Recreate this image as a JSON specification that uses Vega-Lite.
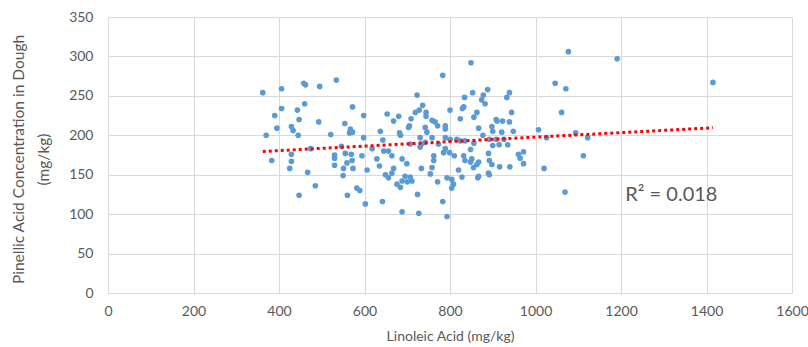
{
  "$schema": "https://vega.github.io/schema/vega-lite/v6.json",
  "width": 684,
  "height": 276,
  "autosize": {"type": "none"},
  "padding": {"left": 108, "top": 17, "right": 16, "bottom": 54},
  "background": "white",
  "config": {
    "view": {"stroke": null},
    "font": "Lato",
    "axis": {"labelColor": "#595959", "titleColor": "#595959", "titleFontWeight": "normal", "gridColor": "#d9d9d9", "gridWidth": 1, "domain": false, "ticks": false, "labelFont": "Lato", "titleFont": "Lato", "labelOverlap": false, "labelFlush": false}
  },
  "datasets": {
    "pts": [
      {"x":362,"y":254},{"x":406,"y":259},{"x":458,"y":266},{"x":462,"y":264},{"x":495,"y":262},{"x":534,"y":270},{"x":460,"y":240},{"x":406,"y":234},{"x":390,"y":225},{"x":443,"y":232},{"x":447,"y":220},{"x":493,"y":217},{"x":572,"y":236},{"x":395,"y":209},{"x":429,"y":211},{"x":433,"y":206},{"x":370,"y":200},{"x":445,"y":200},{"x":521,"y":201},{"x":554,"y":215},{"x":567,"y":208},{"x":572,"y":204},{"x":565,"y":203},{"x":474,"y":183},{"x":546,"y":186},{"x":429,"y":176},{"x":530,"y":175},{"x":530,"y":171},{"x":555,"y":177},{"x":569,"y":176},{"x":383,"y":168},{"x":429,"y":167},{"x":559,"y":165},{"x":571,"y":168},{"x":425,"y":158},{"x":530,"y":162},{"x":551,"y":158},{"x":573,"y":158},{"x":467,"y":153},{"x":550,"y":149},{"x":485,"y":136},{"x":582,"y":133},{"x":447,"y":124},{"x":560,"y":124},
      {"x":1077,"y":306},{"x":849,"y":292},{"x":783,"y":276},{"x":1046,"y":266},{"x":1071,"y":259},{"x":723,"y":251},{"x":853,"y":254},{"x":888,"y":258},{"x":878,"y":251},{"x":874,"y":245},{"x":882,"y":240},{"x":939,"y":254},{"x":933,"y":248},{"x":834,"y":248},{"x":832,"y":236},{"x":736,"y":238},{"x":728,"y":232},{"x":719,"y":229},{"x":744,"y":229},{"x":800,"y":232},{"x":863,"y":229},{"x":944,"y":229},{"x":1061,"y":229},{"x":653,"y":227},{"x":598,"y":225},{"x":680,"y":224},{"x":668,"y":218},{"x":709,"y":221},{"x":744,"y":224},{"x":824,"y":221},{"x":856,"y":223},{"x":908,"y":220},{"x":923,"y":218},{"x":939,"y":217},{"x":705,"y":212},{"x":703,"y":210},{"x":758,"y":219},{"x":765,"y":217},{"x":771,"y":212},{"x":742,"y":210},{"x":789,"y":212},{"x":789,"y":208},{"x":746,"y":204},{"x":867,"y":209},{"x":898,"y":211},{"x":900,"y":205},{"x":921,"y":204},{"x":948,"y":205},{"x":1007,"y":207},{"x":598,"y":197},{"x":637,"y":205},{"x":643,"y":194},{"x":682,"y":203},{"x":684,"y":200},{"x":730,"y":197},{"x":758,"y":197},{"x":789,"y":197},{"x":800,"y":195},{"x":816,"y":195},{"x":824,"y":193},{"x":835,"y":193},{"x":877,"y":200},{"x":892,"y":195},{"x":908,"y":195},{"x":926,"y":195},{"x":1026,"y":197},{"x":1094,"y":203},{"x":1122,"y":197},{"x":1112,"y":174},{"x":1069,"y":128},{"x":1020,"y":158},
      {"x":594,"y":174},{"x":618,"y":183},{"x":645,"y":180},{"x":656,"y":180},{"x":664,"y":174},{"x":629,"y":170},{"x":635,"y":161},{"x":606,"y":156},{"x":668,"y":158},{"x":688,"y":170},{"x":699,"y":164},{"x":730,"y":185},{"x":733,"y":189},{"x":762,"y":174},{"x":762,"y":168},{"x":758,"y":159},{"x":773,"y":189},{"x":785,"y":178},{"x":799,"y":178},{"x":810,"y":174},{"x":789,"y":183},{"x":832,"y":174},{"x":835,"y":168},{"x":851,"y":170},{"x":820,"y":156},{"x":855,"y":159},{"x":863,"y":163},{"x":890,"y":177},{"x":892,"y":168},{"x":898,"y":163},{"x":916,"y":160},{"x":940,"y":160},{"x":960,"y":176},{"x":972,"y":179},{"x":964,"y":171},{"x":972,"y":164},{"x":649,"y":150},{"x":656,"y":146},{"x":676,"y":138},{"x":684,"y":134},{"x":688,"y":142},{"x":707,"y":147},{"x":711,"y":142},{"x":733,"y":158},{"x":754,"y":151},{"x":771,"y":141},{"x":793,"y":146},{"x":804,"y":144},{"x":808,"y":138},{"x":804,"y":133},{"x":828,"y":147},{"x":865,"y":146},{"x":892,"y":150},{"x":589,"y":130},{"x":642,"y":116},{"x":602,"y":113},{"x":724,"y":125},{"x":783,"y":116},{"x":688,"y":103},{"x":727,"y":101},{"x":793,"y":97},
      {"x":1191,"y":297},{"x":1415,"y":267},
      {"x":707,"y":189},{"x":742,"y":191},{"x":664,"y":152},{"x":695,"y":148},{"x":700,"y":141},{"x":848,"y":182},{"x":848,"y":166},{"x":900,"y":187},{"x":915,"y":188},{"x":935,"y":188},{"x":856,"y":190},{"x":867,"y":166},{"x":890,"y":152},{"x":867,"y":148},{"x":910,"y":218},{"x":829,"y":234}
    ],
    "trend": [{"x":362,"y":179.5},{"x":1415,"y":209.5}]
  },
  "layer": [
    {
      "data": {"name": "pts"},
      "mark": {"type": "circle", "size": 32, "color": "#5B9BD5", "opacity": 1},
      "encoding": {
        "x": {"field": "x", "type": "quantitative", "scale": {"domain": [0, 1600], "nice": false},
          "axis": {"values": [0,200,400,600,800,1000,1200,1400,1600], "format": "d", "grid": true, "labelFontSize": 14, "labelPadding": 11, "title": "Linoleic Acid (mg/kg)", "titleFontSize": 14, "titlePadding": 11}},
        "y": {"field": "y", "type": "quantitative", "scale": {"domain": [0, 350], "nice": false},
          "axis": {"values": [0,50,100,150,200,250,300,350], "format": "d", "grid": true, "labelFontSize": 14, "labelPadding": 15,
            "title": ["Pinellic Acid Concentration in Dough", "(mg/kg)"], "titleFontSize": 15.5, "titleLineHeight": 25,
            "titleAngle": 270, "titleAlign": "center", "titleBaseline": "top", "titleX": -97, "titleY": 142}}
      }
    },
    {
      "data": {"name": "trend"},
      "mark": {"type": "line", "color": "#FF0000", "strokeWidth": 3, "strokeDash": [3, 3]},
      "encoding": {
        "x": {"field": "x", "type": "quantitative", "scale": {"domain": [0, 1600], "nice": false},
          "axis": {"values": [0,200,400,600,800,1000,1200,1400,1600], "format": "d", "grid": true, "labelFontSize": 14, "labelPadding": 11, "title": "Linoleic Acid (mg/kg)", "titleFontSize": 14, "titlePadding": 11}},
        "y": {"field": "y", "type": "quantitative", "scale": {"domain": [0, 350], "nice": false},
          "axis": {"values": [0,50,100,150,200,250,300,350], "format": "d", "grid": true, "labelFontSize": 14, "labelPadding": 15,
            "title": ["Pinellic Acid Concentration in Dough", "(mg/kg)"], "titleFontSize": 15.5, "titleLineHeight": 25,
            "titleAngle": 270, "titleAlign": "center", "titleBaseline": "top", "titleX": -97, "titleY": 142}}
      }
    },
    {
      "data": {"values": [{}]},
      "mark": {"type": "text", "text": "R² = 0.018", "fontSize": 20, "color": "#595959", "align": "left", "baseline": "middle", "font": "Lato"},
      "encoding": {
        "x": {"datum": 1210, "scale": {"domain": [0, 1600], "nice": false},
          "axis": {"values": [0,200,400,600,800,1000,1200,1400,1600], "format": "d", "grid": true, "labelFontSize": 14, "labelPadding": 11, "title": "Linoleic Acid (mg/kg)", "titleFontSize": 14, "titlePadding": 11}},
        "y": {"datum": 124, "scale": {"domain": [0, 350], "nice": false},
          "axis": {"values": [0,50,100,150,200,250,300,350], "format": "d", "grid": true, "labelFontSize": 14, "labelPadding": 15,
            "title": ["Pinellic Acid Concentration in Dough", "(mg/kg)"], "titleFontSize": 15.5, "titleLineHeight": 25,
            "titleAngle": 270, "titleAlign": "center", "titleBaseline": "top", "titleX": -97, "titleY": 142}}
      }
    }
  ]
}
